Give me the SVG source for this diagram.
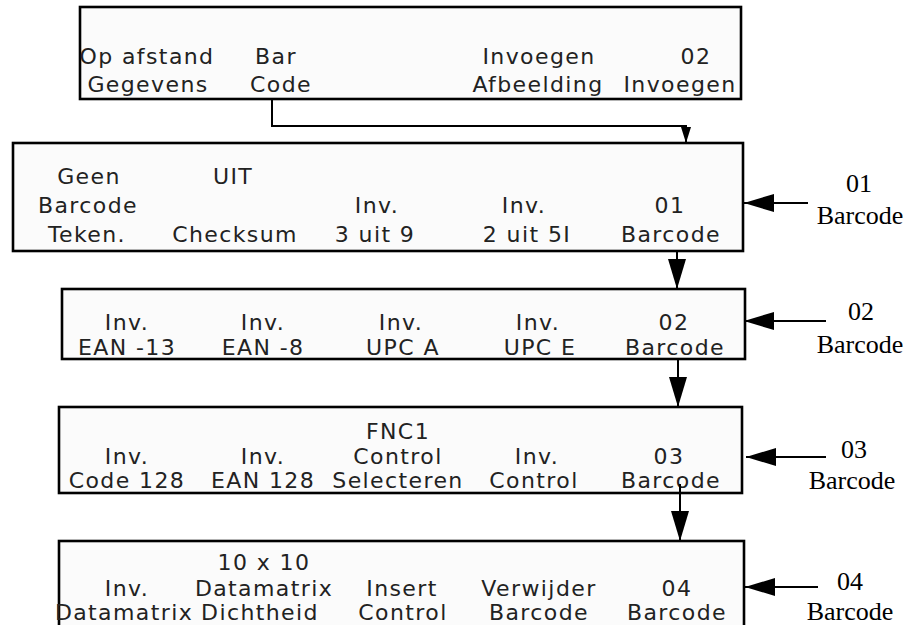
<svg xmlns="http://www.w3.org/2000/svg" width="912" height="625" viewBox="0 0 912 625">
<defs>
<style>
.box{fill:#fbfbfb;stroke:#000;stroke-width:2.6}
.t{font-family:"DejaVu Sans",sans-serif;font-size:22px;letter-spacing:1.4px;fill:#222;text-anchor:middle}
.s{font-family:"Liberation Serif",serif;font-size:26px;fill:#000;text-anchor:middle}
.ln{fill:none;stroke:#000;stroke-width:2}
</style>
<marker id="ah" viewBox="0 0 30 18" refX="30" refY="9" markerWidth="30" markerHeight="18" markerUnits="userSpaceOnUse" orient="auto"><path d="M0,0 L30,9 L0,18 Z" fill="#000"/></marker>
<marker id="ahs" viewBox="0 0 16 10" refX="16" refY="5" markerWidth="16" markerHeight="10" markerUnits="userSpaceOnUse" orient="auto"><path d="M0,0 L16,5 L0,10 Z" fill="#000"/></marker>
</defs>
<rect width="912" height="625" fill="#fff"/>

<g id="menu-invoegen">
<rect class="box" x="80" y="7" width="661" height="92"/>
<text class="t" x="147" y="64">Op afstand</text>
<text class="t" x="148" y="92">Gegevens</text>
<text class="t" x="276" y="64">Bar</text>
<text class="t" x="281" y="92">Code</text>
<text class="t" x="539" y="64">Invoegen</text>
<text class="t" x="538" y="92">Afbeelding</text>
<text class="t" x="696" y="64">02</text>
<text class="t" x="680" y="92">Invoegen</text>
</g>

<g id="menu-barcode-01">
<rect class="box" x="13" y="143" width="730" height="108"/>
<text class="t" x="89" y="184">Geen</text>
<text class="t" x="88" y="213">Barcode</text>
<text class="t" x="87" y="242">Teken.</text>
<text class="t" x="233" y="184">UIT</text>
<text class="t" x="235" y="242">Checksum</text>
<text class="t" x="377" y="213">Inv.</text>
<text class="t" x="375" y="242">3 uit 9</text>
<text class="t" x="524" y="213">Inv.</text>
<text class="t" x="527" y="242">2 uit 5I</text>
<text class="t" x="670" y="213">01</text>
<text class="t" x="671" y="242">Barcode</text>
</g>

<g id="menu-barcode-02">
<rect class="box" x="62" y="289" width="683" height="70"/>
<text class="t" x="127" y="330">Inv.</text>
<text class="t" x="127" y="355">EAN -13</text>
<text class="t" x="263" y="330">Inv.</text>
<text class="t" x="263" y="355">EAN -8</text>
<text class="t" x="401" y="330">Inv.</text>
<text class="t" x="403" y="355">UPC A</text>
<text class="t" x="538" y="330">Inv.</text>
<text class="t" x="540" y="355">UPC E</text>
<text class="t" x="674" y="330">02</text>
<text class="t" x="675" y="355">Barcode</text>
</g>

<g id="menu-barcode-03">
<rect class="box" x="59" y="407" width="683" height="86"/>
<text class="t" x="127" y="464">Inv.</text>
<text class="t" x="127" y="488">Code 128</text>
<text class="t" x="263" y="464">Inv.</text>
<text class="t" x="263" y="488">EAN 128</text>
<text class="t" x="398" y="439">FNC1</text>
<text class="t" x="398" y="464">Control</text>
<text class="t" x="398" y="488">Selecteren</text>
<text class="t" x="537" y="464">Inv.</text>
<text class="t" x="534" y="488">Control</text>
<text class="t" x="669" y="464">03</text>
<text class="t" x="671" y="488">Barcode</text>
</g>

<g id="menu-barcode-04">
<rect class="box" x="59" y="541" width="685" height="100"/>
<text class="t" x="127" y="596">Inv.</text>
<text class="t" x="124" y="620">Datamatrix</text>
<text class="t" x="264" y="570">10 x 10</text>
<text class="t" x="264" y="596">Datamatrix</text>
<text class="t" x="260" y="620">Dichtheid</text>
<text class="t" x="402" y="596">Insert</text>
<text class="t" x="403" y="620">Control</text>
<text class="t" x="539" y="596">Verwijder</text>
<text class="t" x="539" y="620">Barcode</text>
<text class="t" x="677" y="596">04</text>
<text class="t" x="677" y="620">Barcode</text>
</g>

<g id="label-01">
<text class="s" x="859" y="192">01</text>
<text class="s" x="860" y="224">Barcode</text>
</g>
<g id="label-02">
<text class="s" x="861" y="320">02</text>
<text class="s" x="860" y="353">Barcode</text>
</g>
<g id="label-03">
<text class="s" x="854" y="458">03</text>
<text class="s" x="852" y="489">Barcode</text>
</g>
<g id="label-04">
<text class="s" x="850" y="590">04</text>
<text class="s" x="850" y="620">Barcode</text>
</g>

<g id="connectors">
<path class="ln" d="M272,99 V126 H686 V143" marker-end="url(#ahs)"/>
<path class="ln" d="M677,252 V289" marker-end="url(#ah)"/>
<path class="ln" d="M678,360 V407" marker-end="url(#ah)"/>
<path class="ln" d="M680,484 V541" marker-end="url(#ah)"/>
<path class="ln" d="M808,203 H744" marker-end="url(#ah)"/>
<path class="ln" d="M826,321 H744" marker-end="url(#ah)"/>
<path class="ln" d="M826,457 H746" marker-end="url(#ah)"/>
<path class="ln" d="M818,587 H745" marker-end="url(#ah)"/>
</g>
</svg>
